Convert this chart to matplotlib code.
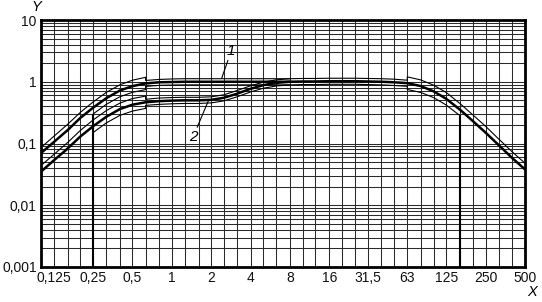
import matplotlib
matplotlib.use('Agg')
import matplotlib.pyplot as plt
from matplotlib.ticker import FixedLocator, LogLocator, NullFormatter

plt.rcParams['font.family'] = ['Liberation Sans', 'DejaVu Sans']
plt.rcParams['font.size'] = 10

# third-octave band centres (Hz)
freq = [0.1, 0.125, 0.16, 0.2, 0.25, 0.315, 0.4, 0.5, 0.63, 0.8,
        1, 1.25, 1.6, 2, 2.5, 3.15, 4, 5, 6.3, 8,
        10, 12.5, 16, 20, 25, 31.5, 40, 50, 63, 80,
        100, 125, 160, 200, 250, 315, 400, 500]

# curve 1 (nominal)
c1 = [0.07, 0.105, 0.165, 0.26, 0.38, 0.54, 0.72, 0.85, 0.94, 0.98,
      0.99, 1.0, 1.0, 1.0, 1.0, 1.0, 1.0, 1.0, 1.0, 1.0,
      1.01, 1.01, 1.02, 1.02, 1.02, 1.01, 1.0, 0.98, 0.95, 0.85,
      0.70, 0.53, 0.35, 0.23, 0.15, 0.094, 0.058, 0.038]

# curve 2 (nominal), same as curve 1 above 8 Hz
c2 = [0.035, 0.053, 0.083, 0.13, 0.19, 0.27, 0.36, 0.425, 0.465, 0.485,
      0.495, 0.5, 0.5, 0.51, 0.55, 0.64, 0.77, 0.88, 0.96, 1.0]

# tolerance limits
u1_f = [0.1, 0.125, 0.16, 0.2, 0.25, 0.315, 0.4, 0.5, 0.63,
        0.63, 0.8, 1, 1.25, 1.6, 2, 2.5, 3.15, 4, 5, 6.3, 8,
        10, 12.5, 16, 20, 25, 31.5, 40, 50, 63,
        63, 80, 100, 125, 160, 200, 250, 315, 400, 500]
u1 = [0.086, 0.13, 0.205, 0.32, 0.47, 0.67, 0.89, 1.06, 1.18,
      1.05, 1.09, 1.11, 1.12, 1.12, 1.12, 1.12, 1.12, 1.12, 1.12, 1.12, 1.12,
      1.13, 1.13, 1.14, 1.14, 1.14, 1.13, 1.12, 1.1, 1.06,
      1.2, 1.07, 0.88, 0.67, 0.44, 0.29, 0.19, 0.118, 0.073, 0.048]

l1_f = [0.25, 0.25, 0.315, 0.4, 0.5, 0.63,
        0.63, 0.8, 1, 1.25, 1.6, 2, 2.5, 3.15, 4, 5, 6.3, 8,
        10, 12.5, 16, 20, 25, 31.5, 40, 50, 63,
        63, 80, 100, 125, 160, 160]
l1 = [0.001, 0.30, 0.43, 0.57, 0.675, 0.745,
      0.84, 0.875, 0.885, 0.89, 0.89, 0.89, 0.89, 0.89, 0.89, 0.89, 0.89, 0.89,
      0.9, 0.9, 0.91, 0.91, 0.91, 0.9, 0.89, 0.87, 0.845,
      0.75, 0.67, 0.555, 0.42, 0.28, 0.001]

u2_f = [0.1, 0.125, 0.16, 0.2, 0.25, 0.315, 0.4, 0.5, 0.63,
        0.63, 0.8, 1, 1.25, 1.6, 2, 2.5, 3.15, 4, 5, 6.3, 8]
u2 = [0.044, 0.066, 0.104, 0.163, 0.24, 0.34, 0.45, 0.535, 0.585,
      0.52, 0.545, 0.555, 0.56, 0.56, 0.57, 0.615, 0.72, 0.86, 0.985, 1.075, 1.12]

l2_f = [0.25, 0.315, 0.4, 0.5, 0.63,
        0.63, 0.8, 1, 1.25, 1.6, 2, 2.5, 3.15, 4, 5, 6.3, 8]
l2 = [0.15, 0.215, 0.285, 0.335, 0.37,
      0.415, 0.43, 0.44, 0.445, 0.445, 0.455, 0.49, 0.57, 0.685, 0.785, 0.855, 0.89]

x_ticks = [0.125, 0.25, 0.5, 1, 2, 4, 8, 16, 31.5, 63, 125, 250, 500]
x_labels = ['0,125', '0,25', '0,5', '1', '2', '4', '8', '16', '31,5', '63', '125', '250', '500']
y_ticks = [0.001, 0.01, 0.1, 1, 10]
y_labels = ['0,001', '0,01', '0,1', '1', '10']

# ---------- PLOTTING ----------
fig = plt.figure(figsize=(5.42, 3.02), dpi=100)
ax = fig.add_axes([41 / 542, 35 / 302, 484 / 542, 247 / 302])

ax.set_xscale('log')
ax.set_yscale('log')
ax.set_xlim(0.1, 500)
ax.set_ylim(0.001, 10)

ax.set_xticks(x_ticks)
ax.set_xticklabels(x_labels)
ax.xaxis.set_minor_locator(FixedLocator([f for f in freq[1:-1] if f not in x_ticks]))
ax.xaxis.set_minor_formatter(NullFormatter())
ax.set_yticks(y_ticks)
ax.set_yticklabels(y_labels)
ax.yaxis.set_minor_locator(LogLocator(base=10, subs=range(2, 10)))
ax.yaxis.set_minor_formatter(NullFormatter())
ax.tick_params(which='both', length=0, labelsize=10, pad=3, colors='#111111')

ax.grid(True, which='both', color='#2a2a2a', lw=0.75)
for s in ax.spines.values():
    s.set_linewidth(2)
    s.set_color('black')

# tolerance lines (thin)
ax.plot(u1_f, u1, color='black', lw=0.8)
ax.plot(l1_f, l1, color='black', lw=0.8)
ax.plot(u2_f, u2, color='black', lw=0.8)
ax.plot(l2_f, l2, color='black', lw=0.8)
# band limits drawn down to the axis
ax.vlines([l1_f[0], l1_f[-1]], 0.001, [l1[1], l1[-2]], color='black', lw=1.5)

# nominal curves (thick)
ax.plot(freq, c1, color='black', lw=1.8)
ax.plot(freq[:len(c2)], c2, color='black', lw=1.8)

ax.annotate('1', xy=(2.4, 1.13), xytext=(7, 15), textcoords='offset points',
            ha='center', va='bottom', fontsize=11, style='italic',
            arrowprops=dict(arrowstyle='-', color='black', lw=0.8, shrinkA=0, shrinkB=0))
ax.annotate('2', xy=(1.9, 0.49), xytext=(-11, -21), textcoords='offset points',
            ha='center', va='top', fontsize=11, style='italic',
            arrowprops=dict(arrowstyle='-', color='black', lw=0.8, shrinkA=0, shrinkB=0))

fig.text(36 / 542, 1 - 7 / 302, 'Y', ha='center', va='center', fontsize=10.5, style='italic')
fig.text(532 / 542, 1 - 292 / 302, 'X', ha='center', va='center', fontsize=10.5, style='italic')

fig.savefig('out.png', dpi=100)
